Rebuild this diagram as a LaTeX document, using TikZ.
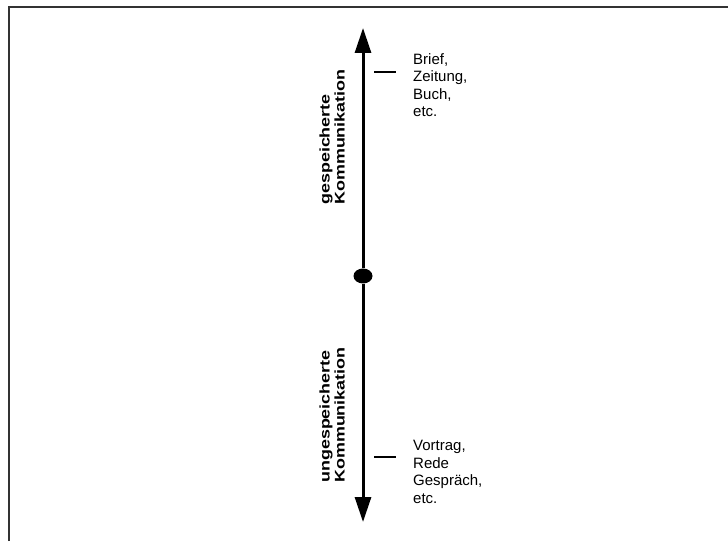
\documentclass[tikz,border=0pt]{standalone}
\usepackage{fontspec}
\setmainfont{Liberation Sans}
\usetikzlibrary{arrows.meta,shapes.geometric}
\newcommand{\AxisX}{363}
\tikzset{Label/.style={
    inner sep=0pt,
    align=left,
    font=\fontsize{15}{17.5}\selectfont,
    anchor=north west,
    }
}
\begin{document}
\begin{tikzpicture}[x=1pt,y=1pt,
    axis/.style={line width=3pt, -{Triangle[length=25pt,width=16pt]}},
    tick/.style={line width=2.5pt},
    side/.style={inner sep=0pt, align=left, anchor=south west,
        rotate=90, xscale=1.28,
        font=\fontsize{14}{15}\selectfont\bfseries},
]
\useasboundingbox (0,0) rectangle (728,541);
% frame
\draw[black!80, line width=1.5pt] (9,0) -- (9,534) -- (728,534);
% axis
\node [ellipse, fill=black, inner sep=0pt, minimum width=19pt, minimum height=15pt] (mid) at (\AxisX,265) {};
\coordinate (top) at (\AxisX,513);
\coordinate (bot) at (\AxisX,19);
\draw [axis] (mid) -- (top);
\draw [axis] (mid) -- (bot);
% upper half
\node [side] (stored) at (345,336) {gespeicherte\\Kommunikation};
\coordinate (t1) at (374,469);
\coordinate (t2) at (396,469);
\draw [tick] (t1) -- (t2);
\node [Label] (media) at (413,488) {Brief,\\Zeitung,\\Buch,\\etc.};
% lower half
\node [side] (unstored) at (345,58) {ungespeicherte\\Kommunikation};
\coordinate (b1) at (374,84);
\coordinate (b2) at (396,84);
\draw [tick] (b1) -- (b2);
\node [Label] (talk) at (413,101) {Vortrag,\\Rede\\Gespräch,\\etc.};
\end{tikzpicture}
\end{document}
